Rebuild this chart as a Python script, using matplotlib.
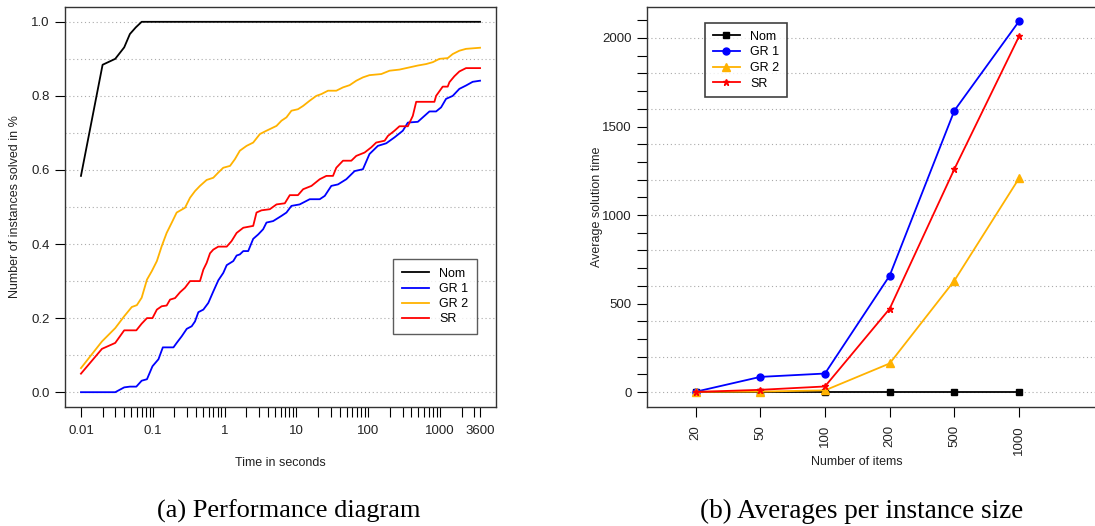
import matplotlib
matplotlib.use("Agg")
import matplotlib.pyplot as plt
import numpy as np
from matplotlib.ticker import FixedLocator, NullFormatter

plt.rcParams['font.family'] = ['Liberation Sans', 'DejaVu Sans']

# ---------------- data: (a) performance diagram ----------------
nom_t = [0.01, 0.02, 0.03, 0.04, 0.048, 0.058, 0.07, 3600]
nom_y = [0.584, 0.884, 0.90, 0.931, 0.967, 0.985, 1.0, 1.0]

gr1_t = [0.01, 0.030, 0.040, 0.048, 0.059, 0.070, 0.083, 0.099, 0.12, 0.138, 0.194, 0.215,
         0.253, 0.297, 0.348, 0.387, 0.431, 0.506, 0.593, 0.696, 0.817, 0.958, 1.07, 1.32,
         1.47, 1.63, 1.82, 2.13, 2.50, 2.94, 3.44, 3.83, 4.74, 6.19, 7.26, 8.52, 11.1, 15.3,
         21.1, 24.8, 30.6, 37.9, 49.5, 64.6, 84.3, 104, 136, 178, 232, 303, 356, 490, 606,
         711, 880, 1033, 1211, 1500, 1856, 2297, 2843, 3600]
gr1_y = [0.0, 0.0, 0.013, 0.015, 0.015, 0.031, 0.035, 0.07, 0.089, 0.121, 0.121, 0.133,
         0.151, 0.171, 0.178, 0.191, 0.216, 0.223, 0.241, 0.272, 0.302, 0.322, 0.343, 0.354,
         0.369, 0.372, 0.381, 0.381, 0.414, 0.426, 0.44, 0.458, 0.462, 0.476, 0.485, 0.503,
         0.507, 0.521, 0.521, 0.53, 0.557, 0.561, 0.575, 0.597, 0.602, 0.643, 0.665, 0.672,
         0.688, 0.706, 0.728, 0.73, 0.746, 0.758, 0.758, 0.769, 0.792, 0.80, 0.819, 0.828,
         0.838, 0.841]

gr2_t = [0.01, 0.0196, 0.030, 0.040, 0.051, 0.060, 0.070, 0.083, 0.097, 0.114, 0.133, 0.156,
         0.184, 0.215, 0.281, 0.330, 0.387, 0.454, 0.562, 0.696, 0.817, 0.958, 1.19, 1.39,
         1.63, 2.02, 2.50, 3.10, 3.83, 5.28, 6.19, 7.26, 8.52, 10.5, 12.4, 15.3, 18.9, 22.3,
         27.5, 35.9, 44.5, 55.1, 68.1, 84.3, 104, 152, 198, 272, 375, 490, 640, 791, 979,
         1277, 1500, 1856, 2297, 3600]
gr2_y = [0.065, 0.137, 0.173, 0.205, 0.23, 0.235, 0.255, 0.304, 0.327, 0.354, 0.394, 0.43,
         0.458, 0.485, 0.498, 0.525, 0.543, 0.557, 0.573, 0.579, 0.593, 0.606, 0.611, 0.629,
         0.652, 0.665, 0.674, 0.697, 0.706, 0.719, 0.733, 0.742, 0.76, 0.764, 0.773, 0.787,
         0.80, 0.805, 0.814, 0.814, 0.823, 0.829, 0.841, 0.85, 0.856, 0.859, 0.868, 0.871,
         0.877, 0.882, 0.886, 0.891, 0.90, 0.902, 0.913, 0.922, 0.927, 0.93]

sr_t = [0.01, 0.0196, 0.030, 0.040, 0.048, 0.059, 0.070, 0.083, 0.099, 0.114, 0.133, 0.156,
        0.174, 0.204, 0.240, 0.281, 0.330, 0.454, 0.506, 0.562, 0.626, 0.696, 0.817, 1.07,
        1.25, 1.47, 1.82, 2.50, 2.78, 3.26, 4.26, 5.28, 6.89, 8.08, 10.5, 12.4, 16.2, 21.1,
        26.1, 32.3, 35.9, 44.5, 58.1, 68.1, 88.9, 110, 129, 169, 188, 232, 272, 356, 417,
        465, 834, 880, 1088, 1277, 1349, 1581, 1856, 2297, 3600]
sr_y = [0.05, 0.117, 0.133, 0.167, 0.167, 0.167, 0.185, 0.2, 0.2, 0.223, 0.232, 0.234,
        0.25, 0.254, 0.27, 0.282, 0.3, 0.3, 0.331, 0.349, 0.375, 0.385, 0.393, 0.393,
        0.408, 0.43, 0.444, 0.449, 0.485, 0.491, 0.494, 0.507, 0.51, 0.532, 0.532, 0.548,
        0.557, 0.575, 0.584, 0.584, 0.606, 0.625, 0.625, 0.638, 0.647, 0.661, 0.674, 0.679,
        0.692, 0.706, 0.718, 0.718, 0.746, 0.784, 0.784, 0.80, 0.825, 0.825, 0.837, 0.853,
        0.866, 0.875, 0.875]

# ---------------- data: (b) averages per instance size ----------------
sizes = ["20", "50", "100", "200", "500", "1000"]
avg_nom = [0, 0, 0, 0, 0, 0]
avg_gr1 = [2, 86, 105, 658, 1590, 2095]
avg_gr2 = [2, 3, 10, 162, 630, 1208]
avg_sr = [1, 13, 32, 471, 1260, 2010]

series_names = ["Nom", "GR 1", "GR 2", "SR"]
colors = ["#000000", "#0000FF", "#FFB200", "#FF0000"]

W, H = 1095, 526
fig = plt.figure(figsize=(W / 100, H / 100), dpi=100)

def fx(px):
    return px / W

def fy(py):
    return 1 - py / H

tick_fs = 9.5
lab_fs = 9

# ---------- left panel ----------
axL = fig.add_axes([fx(65), fy(407), fx(496 - 65), (407 - 7) / H])
lo = np.log10(0.01)
hi = np.log10(3600)
ext = 0.04 * (hi - lo)
axL.set_xscale("log")
axL.set_xlim(10 ** (lo - ext), 10 ** (hi + ext))
axL.set_ylim(-0.04, 1.04)
for y in np.arange(0, 1.01, 0.1):
    axL.axhline(y, color="#aaaaaa", lw=0.8, ls=(0, (1, 2.5)), zorder=0)

for t, v, c, n in zip([nom_t, gr1_t, gr2_t, sr_t], [nom_y, gr1_y, gr2_y, sr_y], colors, series_names):
    axL.plot(t, v, color=c, lw=1.3, label=n)

major = [0.01, 0.1, 1, 10, 100, 1000, 3600]
minor = []
for d in [0.01, 0.1, 1, 10, 100, 1000]:
    for k in range(2, 10):
        v = d * k
        if v < 3600:
            minor.append(v)
axL.xaxis.set_major_locator(FixedLocator(major))
axL.set_xticklabels(["0.01", "0.1", "1", "10", "100", "1000", "3600"], fontsize=tick_fs, color="#222222")
axL.xaxis.set_minor_locator(FixedLocator(minor))
axL.xaxis.set_minor_formatter(NullFormatter())
axL.tick_params(axis="x", which="both", length=7, width=0.8, pad=6, direction="out")
axL.set_yticks([0.0, 0.2, 0.4, 0.6, 0.8, 1.0])
axL.set_yticklabels(["0.0", "0.2", "0.4", "0.6", "0.8", "1.0"], fontsize=tick_fs, color="#222222")
axL.tick_params(axis="y", length=7, width=0.8, pad=4)
for s in axL.spines.values():
    s.set_linewidth(1.0)
    s.set_color("#333333")
axL.set_xlabel("Time in seconds", fontsize=lab_fs, labelpad=14, color="#222222")
axL.set_ylabel("Number of instances solved in %", fontsize=lab_fs, labelpad=7, color="#222222")
legL = axL.legend(loc="upper left", bbox_to_anchor=((393 - 65) / 431, (407 - 259) / 400),
                  fontsize=9, frameon=True, fancybox=False, handlelength=2.2,
                  handletextpad=0.8, labelspacing=0.25, borderpad=0.7, borderaxespad=0)
legL.get_frame().set_edgecolor("#333333")
legL.get_frame().set_linewidth(1.0)

# ---------- right panel ----------
xpos = np.arange(1, len(sizes) + 1)
axR = fig.add_axes([fx(647), fy(407), fx(1100 - 647), (407 - 7) / H])
axR.set_xlim(0.25, 7.25)
axR.set_ylim(-84, 2175)
for y in np.arange(0, 2001, 200):
    axR.axhline(y, color="#aaaaaa", lw=0.8, ls=(0, (1, 2.5)), zorder=0)
markers = ["s", "o", "^", "*"]
msizes = [5, 5, 6, 5]
for vals, c, n, m, ms in zip([avg_nom, avg_gr1, avg_gr2, avg_sr], colors, series_names, markers, msizes):
    axR.plot(xpos, vals, color=c, lw=1.3, marker=m, ms=ms, label=n)
axR.set_xticks(xpos)
axR.set_xticklabels(sizes, rotation=90, fontsize=tick_fs, color="#222222")
axR.tick_params(axis="x", length=7, width=0.8, pad=6)
axR.set_yticks([0, 500, 1000, 1500, 2000])
axR.set_yticklabels(["0", "500", "1000", "1500", "2000"], fontsize=tick_fs, color="#222222")
axR.yaxis.set_minor_locator(FixedLocator(np.arange(0, 2101, 100)))
axR.tick_params(axis="y", which="both", length=7, width=0.8, pad=4)
for s in axR.spines.values():
    s.set_linewidth(1.0)
    s.set_color("#333333")
axR.set_xlabel("Number of items", fontsize=lab_fs, color="#222222")
axR.xaxis.set_label_coords((857 - 647) / 453, -(462 - 407) / 400)
axR.xaxis.label.set_va("center")
axR.set_ylabel("Average solution time", fontsize=lab_fs, color="#222222")
axR.yaxis.set_label_coords(-(647 - 597) / 453, 0.5)
axR.yaxis.label.set_va("center")
legR = axR.legend(loc="upper left", bbox_to_anchor=((705 - 647) / 453, (407 - 23) / 400),
                  fontsize=9, frameon=True, fancybox=False, handlelength=2.2,
                  handletextpad=0.8, labelspacing=0.3, borderpad=0.6, borderaxespad=0)
legR.get_frame().set_edgecolor("#111111")
legR.get_frame().set_linewidth(1.2)

# ---------- captions ----------
cap_font = ["Liberation Serif", "DejaVu Serif"]
fig.text(fx(289), fy(511), "(a) Performance diagram", ha="center", va="center",
         fontsize=19, family=cap_font)
fig.text(fx(862), fy(511), "(b) Averages per instance size", ha="center", va="center",
         fontsize=19.5, family=cap_font)

fig.savefig("out.png", dpi=100)
